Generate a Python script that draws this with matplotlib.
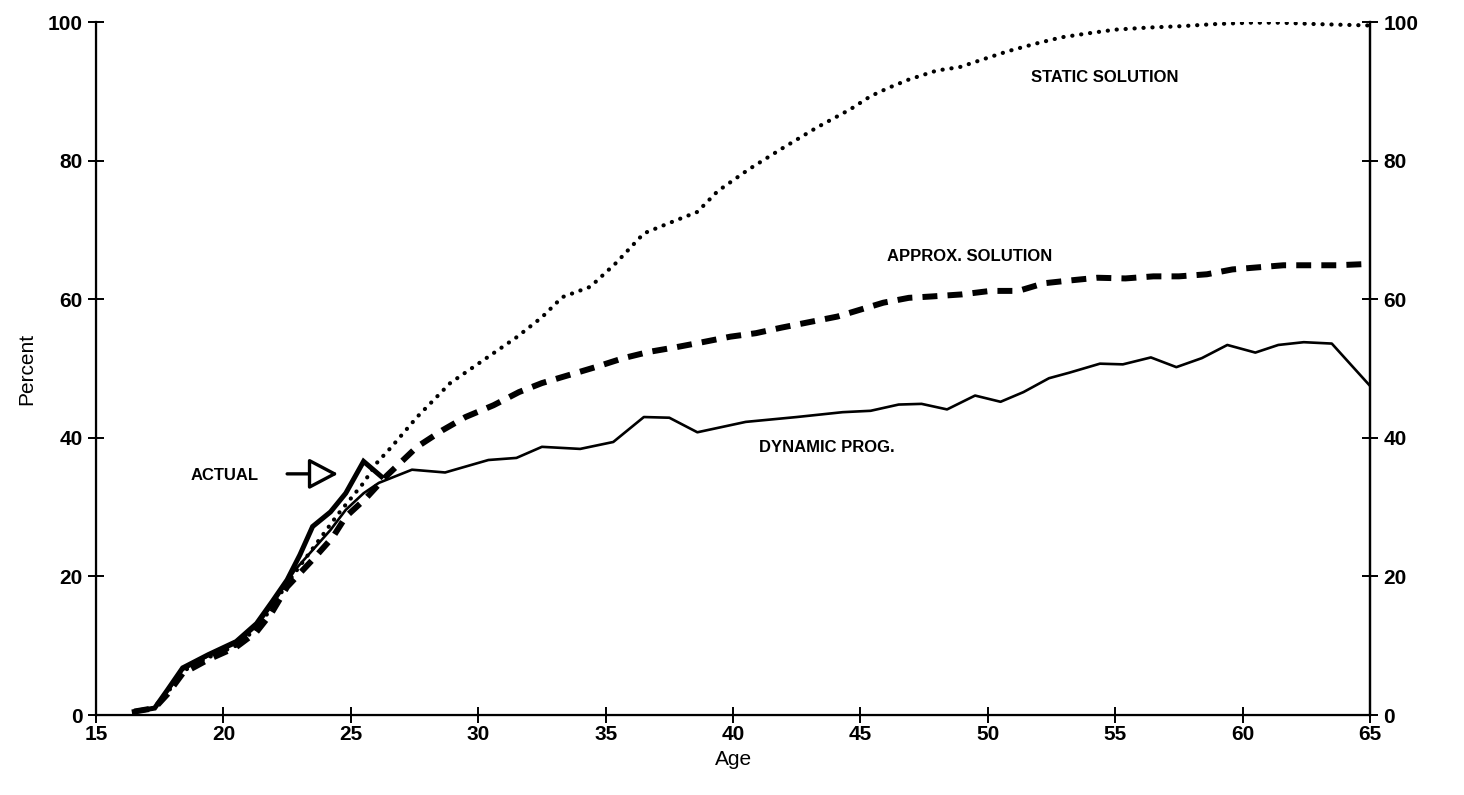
import matplotlib
matplotlib.use("Agg")
import matplotlib.pyplot as plt

plt.rcParams['font.family'] = ['Liberation Sans', 'DejaVu Sans']

# ---- data ----
actual_age = [16.5, 17.3, 17.8, 18.4, 19.4, 20.5, 21.3, 21.9, 22.5, 23.0, 23.5,
              24.2, 24.8, 25.5, 26.2]
actual_pct = [0.5, 1.0, 3.6, 6.8, 8.7, 10.6, 13.2, 16.3, 19.5, 23.1, 27.2,
              29.3, 32.0, 36.6, 34.4]

dynamic_age = [16.5, 17.3, 17.8, 18.4, 19.4, 20.5, 21.3, 21.9, 22.8, 23.5, 24.2,
               24.8, 25.5, 26.1, 27.4, 28.7, 30.4, 31.5, 32.5, 34.0, 35.3, 36.5,
               37.5, 38.6, 40.5, 42.5, 44.3, 45.4, 46.5, 47.4, 48.4, 49.5, 50.5,
               51.4, 52.4, 53.2, 54.4, 55.3, 56.4, 57.4, 58.4, 59.4, 60.5, 61.4,
               62.4, 63.5, 65.0]
dynamic_pct = [0.5, 1.0, 3.4, 6.5, 8.5, 10.3, 12.8, 15.8, 20.9, 23.8, 26.7,
               29.6, 32.0, 33.5, 35.4, 35.0, 36.8, 37.1, 38.7, 38.4, 39.4, 43.0,
               42.9, 40.8, 42.3, 43.0, 43.7, 43.9, 44.8, 44.9, 44.1, 46.1, 45.2,
               46.6, 48.6, 49.4, 50.7, 50.6, 51.6, 50.2, 51.5, 53.4, 52.3, 53.4,
               53.8, 53.6, 47.5]

approx_age = [16.5, 17.3, 17.8, 18.4, 19.4, 20.5, 21.3, 21.9, 22.5, 23.6, 24.3,
              24.8, 25.6, 26.4, 27.6, 28.6, 29.5, 30.6, 31.6, 32.5, 33.6, 34.6,
              35.7, 36.7, 37.8, 38.8, 39.9, 40.9, 41.9, 43.0, 44.1, 45.0, 45.9,
              46.9, 47.8, 49.0, 50.1, 51.2, 52.2, 53.2, 54.3, 55.4, 56.5, 57.5,
              58.6, 59.6, 60.6, 61.6, 62.7, 63.7, 65.0]
approx_pct = [0.5, 1.0, 3.0, 6.0, 8.0, 9.8, 12.0, 14.8, 18.5, 22.8, 25.7,
              28.6, 31.3, 34.5, 38.7, 41.1, 43.0, 44.7, 46.6, 47.9, 49.1, 50.2,
              51.5, 52.4, 53.1, 53.8, 54.6, 55.1, 55.9, 56.7, 57.5, 58.5, 59.5,
              60.2, 60.4, 60.7, 61.2, 61.2, 62.3, 62.7, 63.1, 63.0, 63.3, 63.3,
              63.6, 64.3, 64.6, 64.9, 64.9, 64.9, 65.1]

static_age = [16.5, 17.3, 17.8, 18.4, 19.4, 20.5, 21.3, 21.9, 22.5, 23.5, 24.5,
              25.5, 26.0, 26.6, 27.6, 28.9, 30.2, 31.5, 32.5, 33.3, 34.4, 35.4,
              36.5, 37.5, 38.6, 39.4, 40.6, 41.9, 43.3, 44.6, 45.4, 46.1, 46.9,
              48.0, 48.9, 49.8, 50.8, 51.9, 52.9, 54.0, 55.0, 56.3, 57.6, 58.9,
              60.3, 61.5, 62.9, 65.0]
static_pct = [0.5, 1.0, 3.2, 6.3, 8.3, 10.0, 12.5, 15.5, 19.0, 24.0, 29.0,
              33.5, 36.3, 38.7, 43.0, 47.9, 51.2, 54.5, 57.4, 60.3, 61.8, 65.2,
              69.5, 71.0, 72.6, 75.6, 78.7, 81.7, 84.8, 87.4, 89.3, 90.5, 91.7,
              93.0, 93.5, 94.6, 95.8, 96.9, 97.8, 98.4, 98.9, 99.2, 99.4, 99.7,
              99.9, 99.9, 99.7, 99.5]

x_ticks = list(range(15, 70, 5))
y_ticks = list(range(0, 120, 20))

fig = plt.figure(figsize=(14.64, 7.95), dpi=100)
ax = fig.add_axes([0.0656, 0.1006, 0.8702, 0.8717])

ax.plot(static_age, static_pct, color="black", lw=3.0,
        linestyle=(0, (0.05, 2.1)), dash_capstyle="round")
ax.plot(approx_age, approx_pct, color="black", lw=4.3,
        linestyle=(0, (2.5, 1.7)), dash_capstyle="butt")
ax.plot(dynamic_age, dynamic_pct, color="black", lw=1.9)
ax.plot(actual_age, actual_pct, color="black", lw=3.6, solid_joinstyle="miter")

ax.set_xlim(15, 65)
ax.set_ylim(0, 100)
ax.set_xticks(x_ticks)
ax.set_yticks(y_ticks)
ax.spines["top"].set_visible(False)
for s in ("left", "bottom", "right"):
    ax.spines[s].set_linewidth(1.6)
ax.tick_params(axis="both", direction="inout", length=11, width=1.4,
               labelsize=15)
ax.tick_params(axis="y", pad=4)
ax.tick_params(axis="x", pad=2)
for lab in ax.get_xticklabels() + ax.get_yticklabels():
    lab.set_fontweight("bold")

ax2 = ax.twinx()
ax2.set_ylim(0, 100)
ax2.set_yticks(y_ticks)
ax2.spines["top"].set_visible(False)
ax2.spines["right"].set_linewidth(1.6)
ax2.tick_params(axis="y", direction="inout", length=11, width=1.4,
                labelsize=15, pad=4)
for lab in ax2.get_yticklabels():
    lab.set_fontweight("bold")

ax.set_xlabel("Age", fontsize=15, labelpad=4)
ax.set_ylabel("Percent", fontsize=15, labelpad=8)

lab_kw = dict(fontsize=12, fontweight="bold", ha="center", va="center")
ax.text(54.6, 92.0, "STATIC SOLUTION", **lab_kw)
ax.text(49.3, 66.1, "APPROX. SOLUTION", **lab_kw)
ax.text(43.7, 38.6, "DYNAMIC PROG.", **lab_kw)
ax.text(20.05, 34.6, "ACTUAL", **lab_kw)
ax.annotate("", xy=(24.5, 34.8), xytext=(22.5, 34.8),
            arrowprops=dict(arrowstyle="-|>,head_length=1.8,head_width=0.95",
                            lw=2.4, facecolor="white", edgecolor="black",
                            shrinkA=0, shrinkB=0))

fig.savefig("out.png", dpi=100)
